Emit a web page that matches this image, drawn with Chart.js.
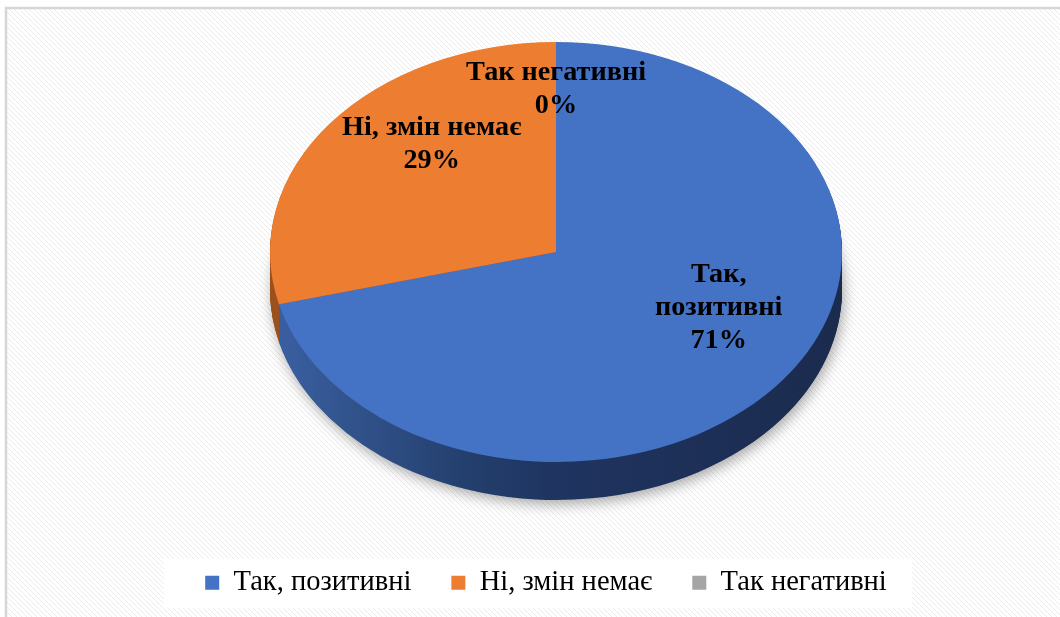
<!DOCTYPE html>
<html>
<head>
<meta charset="utf-8">
<script src="https://cdn.jsdelivr.net/npm/chart.js@4.4.1/dist/chart.umd.min.js"></script>
<style>
  html, body { margin: 0; padding: 0; background: #ffffff; }
  canvas { display: block; }
</style>
</head>
<body>
<canvas id="c" width="1060" height="617"></canvas>
<script>
// ---- data ----
const categories = ['Так, позитивні', 'Ні, змін немає', 'Так негативні'];
const values = [71, 29, 0];
// ---- styles ----
const topColors = ['#4472C4', '#ED7D31', '#A5A5A5'];
const labelRadius = [0.72, 0.55, 0.6];
const labelWrap = [150, 300, 300];
const FAMILY = '"Liberation Serif", "Times New Roman", serif';

const GEO = { CX: 556, CY: 252, RX: 286, RY: 210, DEPTH: 38, LABEL_DY: -37 };

// fit font sizes so text widths match the reference
const mctx = document.createElement('canvas').getContext('2d');
function fitSize(weight, text, target, base) {
  mctx.font = weight + ' ' + base + 'px ' + FAMILY;
  const w = mctx.measureText(text).width;
  return Math.max(18, Math.min(30, base * target / w));
}
const LABEL_SIZE = fitSize('bold', 'Так негативні', 180, 27);
const LEGEND_SIZE = fitSize('normal', 'Так, позитивні', 178, 27);

function setT(ctx, arc, dy) {
  const r = arc.outerRadius;
  ctx.translate(GEO.CX, GEO.CY + dy);
  ctx.scale(GEO.RX / r, GEO.RY / r);
  ctx.translate(-arc.x, -arc.y);
}

function sideFill(ctx, arc, i) {
  const r = arc.outerRadius;
  const toLocal = X => arc.x + (X - GEO.CX) * r / GEO.RX;
  if (i === 0) {
    const g = ctx.createLinearGradient(toLocal(270), 0, toLocal(842), 0);
    g.addColorStop(0, '#3b60a4');
    g.addColorStop(0.12, '#33558f');
    g.addColorStop(0.33, '#24406f');
    g.addColorStop(0.5, '#1f3460');
    g.addColorStop(1, '#1b2b4e');
    return g;
  }
  if (i === 1) return '#9c521f';
  return '#6b6b6b';
}

function hatchPattern(ctx) {
  const t = document.createElement('canvas');
  t.width = 5; t.height = 5;
  const c = t.getContext('2d');
  c.fillStyle = '#ffffff'; c.fillRect(0, 0, 5, 5);
  c.fillStyle = '#ececec';
  for (let k = 0; k < 5; k++) c.fillRect(k, k, 1, 1);
  return ctx.createPattern(t, 'repeat');
}

function wrapText(ctx, text, maxW) {
  const words = text.split(' ');
  const lines = [];
  let cur = '';
  words.forEach(w => {
    const test = cur ? cur + ' ' + w : w;
    if (ctx.measureText(test).width > maxW && cur) { lines.push(cur); cur = w; }
    else cur = test;
  });
  if (cur) lines.push(cur);
  return lines;
}

const pie3d = {
  id: 'pie3d',
  beforeDraw(chart) {
    const ctx = chart.ctx;
    ctx.save();
    ctx.fillStyle = '#ffffff';
    ctx.fillRect(0, 0, chart.width, chart.height);
    ctx.fillStyle = hatchPattern(ctx);
    ctx.fillRect(6, 8, chart.width, chart.height);
    ctx.strokeStyle = '#d6d6d6';
    ctx.lineWidth = 2.5;
    ctx.strokeRect(6, 8, chart.width + 20, chart.height + 20);
    // legend panel centred on the legend items
    const lg = chart.legend;
    const hb = lg.legendHitBoxes && lg.legendHitBoxes[0];
    const cyL = hb ? hb.top + hb.height / 2 : lg.top + lg.height / 2;
    ctx.fillStyle = 'rgba(255,255,255,0.92)';
    ctx.fillRect(164, cyL - 24, 748, 49);
    ctx.restore();
  },
  beforeDatasetsDraw(chart) {
    const ctx = chart.ctx;
    const meta = chart.getDatasetMeta(0);
    const a0 = meta.data[0];
    for (let d = GEO.DEPTH; d >= 1; d--) {
      ctx.save();
      if (d === GEO.DEPTH) {
        ctx.shadowColor = 'rgba(0,0,0,0.35)';
        ctx.shadowBlur = 14;
        ctx.shadowOffsetX = 2;
        ctx.shadowOffsetY = 4;
      }
      setT(ctx, a0, d);
      meta.data.forEach((arc, i) => {
        if (!values[i]) return;
        const p = Object.create(arc);
        p.options = Object.assign({}, arc.options, { backgroundColor: sideFill(ctx, arc, i), borderWidth: 0 });
        p.draw(ctx);
      });
      ctx.restore();
    }
    ctx.save();
    setT(ctx, a0, 0);
  },
  afterDatasetsDraw(chart) {
    const ctx = chart.ctx;
    ctx.restore();
    const meta = chart.getDatasetMeta(0);
    const total = values.reduce((a, b) => a + b, 0);
    ctx.save();
    ctx.font = 'bold ' + LABEL_SIZE + 'px ' + FAMILY;
    ctx.fillStyle = '#000000';
    ctx.textAlign = 'center';
    ctx.textBaseline = 'middle';
    const LH = 33;
    meta.data.forEach((arc, i) => {
      const mid = (arc.startAngle + arc.endAngle) / 2;
      const f = labelRadius[i];
      const x = GEO.CX + GEO.RX * f * Math.cos(mid);
      const y = GEO.CY + GEO.LABEL_DY + GEO.RY * f * Math.sin(mid);
      const lines = wrapText(ctx, categories[i], labelWrap[i]);
      lines.push(Math.round(values[i] / total * 100) + '%');
      const y0 = y - (lines.length - 1) * LH / 2;
      lines.forEach((ln, k) => ctx.fillText(ln, x, y0 + k * LH));
    });
    ctx.restore();
  }
};

new Chart(document.getElementById('c'), {
  type: 'pie',
  data: {
    labels: categories,
    datasets: [{
      data: values,
      backgroundColor: topColors,
      borderWidth: 0,
      clip: false
    }]
  },
  options: {
    responsive: false,
    animation: false,
    events: [],
    layout: { padding: { left: 32, right: 0, top: 0, bottom: 10 } },
    plugins: {
      tooltip: { enabled: false },
      legend: {
        position: 'bottom',
        labels: {
          font: { family: FAMILY, size: LEGEND_SIZE },
          color: '#000000',
          boxWidth: 14,
          boxHeight: 14,
          padding: 40
        }
      }
    }
  },
  plugins: [pie3d]
});
</script>
</body>
</html>
